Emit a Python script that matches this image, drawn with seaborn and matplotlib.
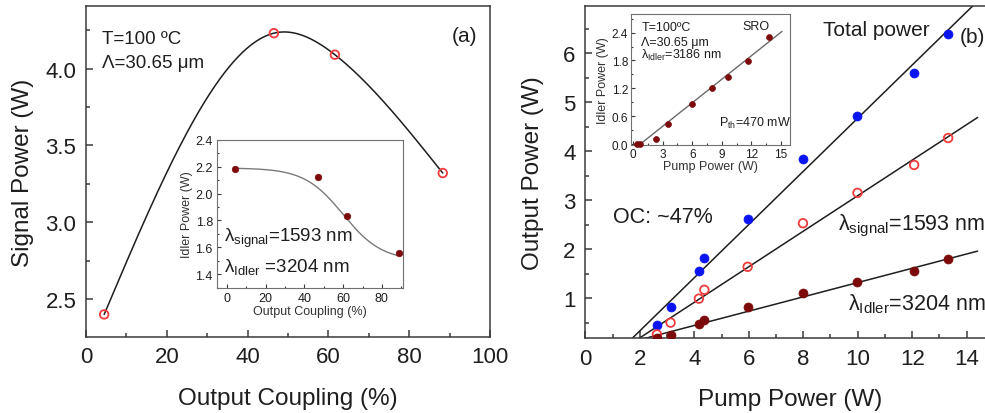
import numpy as np
import matplotlib
matplotlib.use("Agg")
import matplotlib.pyplot as plt
from matplotlib.ticker import MultipleLocator
import seaborn as sns

# ---- (a) signal power vs output coupling ----
oc_pct = [4.5, 46.5, 61.6, 88.3]
signal_w = [2.40, 4.23, 4.09, 3.32]

# inset (a): idler power vs output coupling
oc_pct_idler = [4.4, 46.8, 61.9, 88.9]
idler_w_oc = [2.183, 2.124, 1.83, 1.556]
# Boltzmann fit: A2 + (A1 - A2) / (1 + exp((x - x0) / dx))
boltz_a1, boltz_a2, boltz_x0, boltz_dx = 2.19, 1.50, 60.0, 10.0

# ---- (b) output power vs pump power ----
pump_w = [2.63, 3.13, 4.17, 4.37, 5.96, 7.99, 9.99, 12.07, 13.32]
total_w = [0.46, 0.82, 1.55, 1.83, 2.61, 3.84, 4.72, 5.59, 6.40]
signal_out_w = [0.26, 0.50, 0.99, 1.17, 1.64, 2.53, 3.15, 3.72, 4.27]
idler_out_w = [0.19, 0.25, 0.48, 0.55, 0.82, 1.10, 1.32, 1.56, 1.79]
# linear fits: slope (W/W), threshold (W)
fit_total = (0.543, 1.39)
fit_signal = (0.363, 1.48)
fit_idler = (0.146, 0.97)

# inset (b): idler power vs pump power
pump_w_inset = [0.4, 0.7, 2.3, 3.5, 6.0, 8.0, 9.6, 11.7, 13.8]
idler_w_inset = [0.0, 0.01, 0.12, 0.43, 0.87, 1.21, 1.45, 1.79, 2.30]
fit_inset = (0.169, 0.74)

BLUE = "#0a14f0"
RED = "#f03c3c"
DARK_RED = "#7d0a0a"
INK = "#1e1e1e"
SPINE = "#3a3a3a"


def natural_spline(x, y, xs):
    x = np.asarray(x, float)
    y = np.asarray(y, float)
    n = len(x)
    h = np.diff(x)
    A = np.zeros((n - 2, n - 2))
    r = np.zeros(n - 2)
    for i in range(1, n - 1):
        j = i - 1
        A[j, j] = 2 * (h[i - 1] + h[i])
        if j > 0:
            A[j, j - 1] = h[i - 1]
        if j < n - 3:
            A[j, j + 1] = h[i]
        r[j] = 6 * ((y[i + 1] - y[i]) / h[i] - (y[i] - y[i - 1]) / h[i - 1])
    m = np.zeros(n)
    m[1:-1] = np.linalg.solve(A, r)
    out = np.empty_like(xs)
    for k, xv in enumerate(xs):
        i = min(max(np.searchsorted(x, xv) - 1, 0), n - 2)
        t0 = x[i + 1] - xv
        t1 = xv - x[i]
        out[k] = (m[i] * t0 ** 3 + m[i + 1] * t1 ** 3) / (6 * h[i]) \
            + (y[i] / h[i] - m[i] * h[i] / 6) * t0 \
            + (y[i + 1] / h[i] - m[i + 1] * h[i] / 6) * t1
    return out


sns.set_theme(style="ticks")
plt.rcParams["font.family"] = ["Liberation Sans", "DejaVu Sans"]
plt.rcParams.update({
    "mathtext.fontset": "custom",
    "mathtext.rm": "Liberation Sans",
    "mathtext.it": "Liberation Sans:italic",
    "xtick.direction": "in",
    "ytick.direction": "in",
    "axes.edgecolor": SPINE,
    "text.color": INK,
    "axes.labelcolor": INK,
    "xtick.color": SPINE,
    "ytick.color": SPINE,
    "xtick.labelcolor": INK,
    "ytick.labelcolor": INK,
})

fig = plt.figure(figsize=(9.85, 4.14), dpi=100)


def style_axes(ax, major_len, minor_len, lw, labelsize, pad):
    for s in ax.spines.values():
        s.set_linewidth(lw)
    ax.tick_params(which="major", length=major_len, width=lw, labelsize=labelsize, pad=pad)
    ax.tick_params(which="minor", length=minor_len, width=lw)


# ---------------- panel (a) ----------------
ax_a = fig.add_axes([0.0873, 0.1843, 0.4102, 0.7981])
xs = np.linspace(oc_pct[0], oc_pct[-1], 300)
sns.lineplot(x=xs, y=natural_spline(oc_pct, signal_w, xs), ax=ax_a,
             color=INK, lw=1.1, estimator=None, sort=False)
sns.scatterplot(x=oc_pct, y=signal_w, ax=ax_a, marker="o", s=38,
                facecolor="none", edgecolor=RED, linewidth=1.3, zorder=4)
ax_a.set_xlim(0, 100)
ax_a.set_ylim(2.255, 4.405)
ax_a.xaxis.set_major_locator(MultipleLocator(20))
ax_a.xaxis.set_minor_locator(MultipleLocator(10))
ax_a.yaxis.set_major_locator(MultipleLocator(0.5))
ax_a.yaxis.set_minor_locator(MultipleLocator(0.25))
ax_a.yaxis.set_major_formatter(matplotlib.ticker.FormatStrFormatter("%.1f"))
style_axes(ax_a, 5, 3, 1.1, 16, 7)
ax_a.set_xlabel("Output Coupling (%)", fontsize=17.5, labelpad=14)
ax_a.set_ylabel("Signal Power (W)", fontsize=17.5, labelpad=8)
ax_a.text(0.040, 0.890, "T=100 ºC", transform=ax_a.transAxes, fontsize=13.5, va="baseline")
ax_a.text(0.039, 0.815, "Λ=30.65 μm", transform=ax_a.transAxes, fontsize=13.5, va="baseline")
ax_a.text(0.968, 0.911, "(a)", transform=ax_a.transAxes, fontsize=15, ha="right", va="center")

# inset (a)
ax_ai = fig.add_axes([0.2203, 0.3027, 0.1891, 0.3574])
xs_i = np.linspace(oc_pct_idler[0], oc_pct_idler[-1], 200)
boltz = boltz_a2 + (boltz_a1 - boltz_a2) / (1 + np.exp((xs_i - boltz_x0) / boltz_dx))
sns.lineplot(x=xs_i, y=boltz, ax=ax_ai, color="#7a7a7a", lw=1.0, estimator=None, sort=False)
sns.scatterplot(x=oc_pct_idler, y=idler_w_oc, ax=ax_ai, marker="o", s=22,
                color=DARK_RED, edgecolor=DARK_RED, linewidth=0.5, zorder=4)
ax_ai.set_xlim(-5, 91)
ax_ai.set_ylim(1.3, 2.4)
ax_ai.xaxis.set_major_locator(MultipleLocator(20))
ax_ai.xaxis.set_minor_locator(MultipleLocator(10))
ax_ai.yaxis.set_major_locator(MultipleLocator(0.2))
ax_ai.yaxis.set_minor_locator(MultipleLocator(0.1))
ax_ai.yaxis.set_major_formatter(matplotlib.ticker.FormatStrFormatter("%.1f"))
style_axes(ax_ai, 3, 1.5, 0.8, 9, 3)
for s in ax_ai.spines.values():
    s.set_edgecolor("#707070")
ax_ai.set_xlabel("Output Coupling (%)", fontsize=9, labelpad=1, color="#333333")
ax_ai.set_ylabel("Idler Power (W)", fontsize=9, labelpad=2, color="#333333")
ax_ai.text(0.038, 0.318, r"$\mathregular{λ_{signal}}$=1593 nm", transform=ax_ai.transAxes,
           fontsize=13.5, va="baseline")
ax_ai.text(0.038, 0.115, r"$\mathregular{λ_{Idler}}$ =3204 nm", transform=ax_ai.transAxes,
           fontsize=13.5, va="baseline")

# ---------------- panel (b) ----------------
ax_b = fig.add_axes([0.5942, 0.1804, 0.4149, 0.8020])
for (slope, thr) in (fit_total, fit_signal, fit_idler):
    xl = np.linspace(thr, 14.4, 50)
    sns.lineplot(x=xl, y=slope * (xl - thr), ax=ax_b, color=INK, lw=1.1,
                 estimator=None, sort=False)
sns.scatterplot(x=pump_w, y=total_w, ax=ax_b, marker="o", s=42,
                color=BLUE, edgecolor=BLUE, linewidth=0.5, zorder=4)
sns.scatterplot(x=pump_w, y=signal_out_w, ax=ax_b, marker="o", s=38,
                facecolor="none", edgecolor=RED, linewidth=1.3, zorder=4)
sns.scatterplot(x=pump_w, y=idler_out_w, ax=ax_b, marker="o", s=42,
                color=DARK_RED, edgecolor=DARK_RED, linewidth=0.5, zorder=4)
ax_b.set_xlim(0, 15)
ax_b.set_ylim(0.18, 6.96)
ax_b.xaxis.set_major_locator(MultipleLocator(2))
ax_b.xaxis.set_minor_locator(MultipleLocator(1))
ax_b.yaxis.set_major_locator(MultipleLocator(1))
ax_b.yaxis.set_minor_locator(MultipleLocator(0.5))
style_axes(ax_b, 5, 3, 1.1, 16, 7)
ax_b.set_xlabel("Pump Power (W)", fontsize=17.5, labelpad=14)
ax_b.set_ylabel("Output Power (W)", fontsize=17.5, labelpad=14)
ax_b.text(8.72, 6.37, "Total power", fontsize=15, va="baseline")
ax_b.text(13.75, 6.35, "(b)", fontsize=15, va="center")
ax_b.text(1.02, 2.55, "OC: ~47%", fontsize=15.5, va="baseline")
ax_b.text(9.29, 2.41, r"$\mathregular{λ_{signal}}$=1593 nm", fontsize=15.5, va="baseline")
ax_b.text(9.65, 0.78, r"$\mathregular{λ_{Idler}}$=3204 nm", fontsize=15.5, va="baseline")

# inset (b)
ax_bi = fig.add_axes([0.6406, 0.6473, 0.1614, 0.3164])
xl = np.linspace(fit_inset[1], 15.1, 50)
sns.lineplot(x=xl, y=fit_inset[0] * (xl - fit_inset[1]), ax=ax_bi, color="#6a6a6a",
             lw=1.0, estimator=None, sort=False)
sns.scatterplot(x=pump_w_inset, y=idler_w_inset, ax=ax_bi, marker="o", s=18,
                color=DARK_RED, edgecolor=DARK_RED, linewidth=0.5, zorder=4, clip_on=False)
ax_bi.set_xlim(-0.2, 15.9)
ax_bi.set_ylim(-0.02, 2.8)
ax_bi.xaxis.set_major_locator(MultipleLocator(3))
ax_bi.xaxis.set_minor_locator(MultipleLocator(1.5))
ax_bi.yaxis.set_major_locator(MultipleLocator(0.6))
ax_bi.yaxis.set_minor_locator(MultipleLocator(0.3))
ax_bi.yaxis.set_major_formatter(matplotlib.ticker.FormatStrFormatter("%.1f"))
style_axes(ax_bi, 3, 1.5, 0.8, 8.5, 2)
for s in ax_bi.spines.values():
    s.set_edgecolor("#707070")
ax_bi.set_xlabel("Pump Power (W)", fontsize=9, labelpad=0, color="#333333")
ax_bi.set_ylabel("Idler Power (W)", fontsize=9, labelpad=2, color="#333333")
ax_bi.text(0.85, 2.45, "T=100ºC", fontsize=9, va="baseline")
ax_bi.text(0.85, 2.14, "Λ=30.65 μm", fontsize=9, va="baseline")
ax_bi.text(0.85, 1.85, r"$\mathregular{λ_{Idler}}$=3186 nm", fontsize=9, va="baseline")
ax_bi.text(11.04, 2.47, "SRO", fontsize=9, va="baseline")
ax_bi.text(8.68, 0.385, r"$\mathregular{P_{th}}$=470 mW", fontsize=9, va="baseline")

fig.savefig("out.png", dpi=100)
